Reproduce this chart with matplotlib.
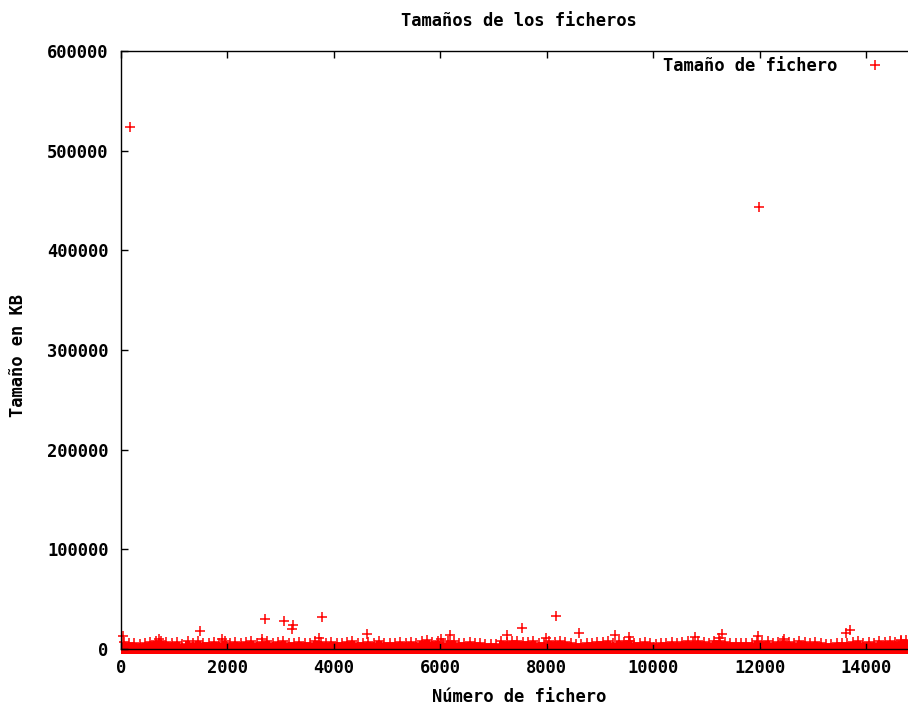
import numpy as np
import matplotlib
matplotlib.use("Agg")
import matplotlib.pyplot as plt

# ---------------- data ----------------
title = "Tamaños de los ficheros"
x_label = "Número de fichero"
y_label = "Tamaño en KB"
legend_label = "Tamaño de fichero"

x_ticks = [0, 2000, 4000, 6000, 8000, 10000, 12000, 14000]
y_ticks = [0, 100000, 200000, 300000, 400000, 500000, 600000]

# files that stand out clearly above the dense band (file number, size KB)
outlier_index = [169, 11981, 30, 708, 1490, 1897, 2648, 2704, 3061, 3205, 3224,
                 3712, 3768, 4625, 6020, 6191, 7262, 7543, 7993, 8181, 8601,
                 9277, 9546, 9570, 10785, 11236, 11286, 11962, 12462, 13633,
                 13695, 14667]
outlier_kb = [524000, 443500, 13500, 10300, 17800, 10000, 10000, 30100, 28400,
              20000, 24000, 11000, 31800, 15000, 10300, 14400, 13700, 20700,
              11000, 33100, 16000, 14300, 11700, 8300, 11700, 11000, 15000,
              12700, 10300, 16000, 19400, 9300]

# dense band: largest file size in each block of files
band_block = 100  # files per block
band_max_kb = [
    7000, 5600, 6300, 5200, 6100, 6900, 8100, 8300, 7200, 6000,
    6700, 5500, 7600, 6000, 7900, 6400, 5700, 7100, 5600, 7800,
    6200, 7400, 5800, 6600, 8200, 6000, 7000, 7900, 5700, 6800,
    7700, 6300, 5900, 7400, 6500, 6000, 8000, 7100, 6000, 6900,
    6300, 5800, 7200, 7900, 6400, 5900, 7000, 6200, 7600, 6300,
    5600, 6200, 6900, 5900, 7300, 6100, 8000, 8600, 7100, 8100,
    6500, 7800, 8400, 6300, 6000, 6800, 5800, 6200, 5400, 5300,
    5500, 7800, 6900, 8200, 8500, 7300, 6800, 8000, 6500, 6000,
    7900, 7000, 8300, 6600, 5700, 5500, 5400, 5600, 6300, 7500,
    6800, 7700, 6500, 8000, 7300, 8200, 6300, 5900, 6600, 5700,
    5400, 5600, 6000, 7200, 6400, 7400, 8000, 6600, 7800, 7000,
    6500, 8300, 7900, 7000, 6200, 5700, 5600, 5800, 6500, 7600,
    6900, 7900, 6400, 7500, 8200, 7200, 6300, 7800, 6800, 6200,
    7200, 5700, 5500, 5400, 5600, 5700, 6300, 6800, 7600, 6500,
    7300, 6400, 7800, 6800, 8000, 7100, 7800, 8700, 7900,
]

# ---------------- figure ----------------
W, H = 908, 705
plt.rcParams["font.family"] = ["DejaVu Sans Mono", "DejaVu Sans"]
plt.rcParams["font.weight"] = "bold"
FS = 12.3
RED = "#ff0000"

fig = plt.figure(figsize=(W / 100, H / 100), dpi=100)
ax = fig.add_axes([121 / W, (H - 649) / H, (W - 121) / W, 598 / H])

band_x = np.arange(len(band_max_kb)) * band_block + band_block / 2
band_edges = np.arange(len(band_max_kb) + 1) * band_block

# solid part of the band (files are dense enough to merge into an area)
ax.fill_between(band_edges, 0, list(band_max_kb) + [band_max_kb[-1]], step="post",
                color=RED, lw=0, clip_on=False, zorder=1)
ax.fill_between(band_edges, -5500, 0, color=RED, lw=0, clip_on=False, zorder=1)
ax.plot(band_x, band_max_kb, ls="none", marker="+", ms=7.2, mew=1.1,
        color=RED, clip_on=False, zorder=2)
ax.plot(outlier_index, outlier_kb, ls="none", marker="+", ms=7.6, mew=1.1,
        color=RED, clip_on=False, zorder=2, label=legend_label)

ax.set_xlim(0, 14790)
ax.set_ylim(0, 600000)
ax.set_xticks(x_ticks)
ax.set_yticks(y_ticks)
ax.set_xticklabels([str(v) for v in x_ticks])
ax.set_yticklabels([str(v) for v in y_ticks])
ax.tick_params(axis="x", direction="in", length=5, width=1, top=True, bottom=True,
               labelsize=FS, pad=7)
ax.tick_params(axis="y", direction="in", length=5, width=1, left=True, right=False,
               labelsize=FS, pad=9)
for lab in ax.get_xticklabels() + ax.get_yticklabels():
    lab.set_fontweight("bold")
ax.spines["right"].set_visible(False)
for s in ("left", "top", "bottom"):
    ax.spines[s].set_linewidth(1.0)
    ax.spines[s].set_zorder(3)

fig.text(519 / W, 1 - 21 / H, title, ha="center", va="center",
         fontsize=FS, fontweight="bold")
fig.text(519 / W, 1 - 697 / H, x_label, ha="center", va="center",
         fontsize=FS, fontweight="bold")
fig.text(18 / W, 1 - 356 / H, y_label, ha="center", va="center",
         rotation=90, fontsize=FS, fontweight="bold")

leg = ax.legend(loc="upper right", bbox_to_anchor=(883.5 / W, 1 - 57 / H),
                bbox_transform=fig.transFigure, markerfirst=False, frameon=False,
                borderpad=0, borderaxespad=0, handlelength=1.0,
                handletextpad=1.68, prop={"size": FS, "weight": "bold"})

fig.savefig("out.png", dpi=100)
